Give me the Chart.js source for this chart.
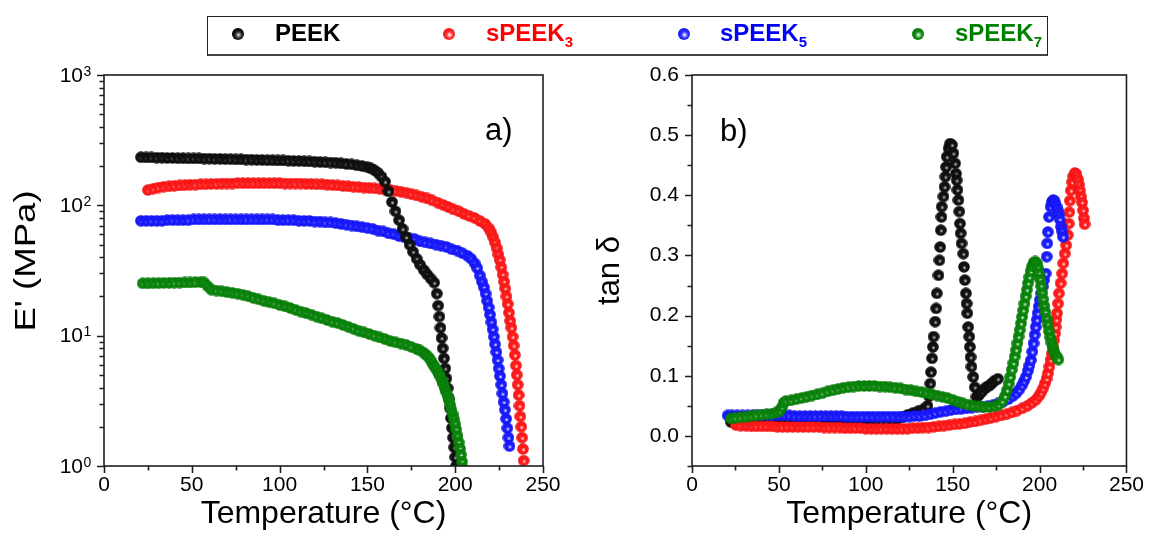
<!DOCTYPE html>
<html><head><meta charset="utf-8">
<script src="https://cdn.jsdelivr.net/npm/chart.js@4.4.1/dist/chart.umd.min.js"></script>
<style>
html,body{margin:0;padding:0;background:#fff;width:1151px;height:533px;overflow:hidden;font-family:"Liberation Sans",Arial,sans-serif;}
#cL{position:absolute;left:0;top:0;}
#cR{position:absolute;left:576px;top:0;}
#legend{position:absolute;left:207px;top:16px;width:841px;height:40px;box-sizing:border-box;border:1.5px solid #222;border-bottom:2px solid #444;}
.ball{position:absolute;top:28px;width:12px;height:12px;border-radius:50%;}
.lab{position:absolute;top:21px;font-weight:bold;font-size:24px;line-height:24px;white-space:nowrap;}
.lab sub{font-size:15px;vertical-align:-6px;line-height:0;}
</style></head>
<body>
<canvas id="cL" width="576" height="533"></canvas>
<canvas id="cR" width="575" height="533"></canvas>
<div id="legend"></div>
<div class="ball" style="left:232px;background:radial-gradient(circle at 55% 58%,#e0e0e0 0%,#333 32%,#000 60%)"></div>
<div class="lab" style="left:275px;color:#000">PEEK</div>
<div class="ball" style="left:443px;background:radial-gradient(circle at 55% 58%,#fff 0%,#ff3030 35%,#e00000 100%)"></div>
<div class="lab" style="left:486px;color:#ff0000">sPEEK<sub>3</sub></div>
<div class="ball" style="left:678px;background:radial-gradient(circle at 55% 58%,#fff 0%,#3030ff 35%,#0000d8 100%)"></div>
<div class="lab" style="left:720px;color:#0000ff">sPEEK<sub>5</sub></div>
<div class="ball" style="left:912px;background:radial-gradient(circle at 55% 58%,#fff 0%,#108a10 35%,#006800 100%)"></div>
<div class="lab" style="left:955px;color:#008000">sPEEK<sub>7</sub></div>
<script>
// ---------- Panel a) storage modulus E' (MPa) ----------
const peekT_E = [21,24,27,30,33,36,39,42,45,48,51,54,57,60,63,66,69,72,75,78,81,84,87,90,93,96,99,102,105,108,111,114,117,120,123,126,129,132,135,138,141,144,147,150,
152,154,156,158,160,162,164,166,168,170,172,174,176,178,180,182,184,186,188,
189.5,190.3,191,191.6,192.2,192.9,193.6,194.3,195,195.7,196.4,197,197.6,198.2,198.8,199.4,200,200.5];
const peekE = [234,233,233,232,232,231,231,230,230,229,229,229,228,228,227,227,226,226,225,225,224,224,223,223,222,222,221,221,220,219,219,218,217,216,215,214,213,212,210,208,206,203,200,196,
192,186,178,166,152,128,106,90,77,66,57,50,44,39,35,32,29.5,27.5,25.5,
21,17,14,11.5,9.6,8.0,6.7,5.6,4.7,3.95,3.3,2.78,2.33,1.96,1.65,1.39,1.17,1.0];

const s3T_E = [25,28,31,34,37,40,43,46,49,52,55,58,61,64,67,70,73,76,79,82,85,88,91,94,97,100,103,106,109,112,115,118,121,124,127,130,133,136,139,142,145,148,151,154,157,160,163,166,169,172,175,178,181,184,187,190,193,196,199,202,205,208,211,214,217,
219,220.5,221.6,222.6,223.6,224.5,225.4,226.2,227,227.8,228.5,229.2,229.9,230.6,231.3,232,232.7,233.3,234,234.6,235.1,235.6,236.1,236.6,237.1,237.6,238.1,238.6,239,239.4];
const s3E = [131,134,137,139,140,141,142,143,144,144,145,145,146,146,147,147,147,148,148,148,148,148,148,148,148,148,147,147,147,147,146,146,145,145,144,143,142,141,140,139,138,137,136,135,134,132,131,129,127,125,122,119,116,113,109,105,101,97,93,90,86,83,80,76,72,
67,62,57,52,47,42,38,33.5,29.5,26,23,20,17.5,15,13,11.5,9.8,8.4,7.1,5.9,5.0,4.2,3.5,2.9,2.4,2.0,1.65,1.35,1.1,0.9];

const s5T_E = [21,24,27,30,33,36,39,42,45,48,51,54,57,60,63,66,69,72,75,78,81,84,87,90,93,96,99,102,105,108,111,114,117,120,123,126,129,132,135,138,141,144,147,150,153,156,159,162,165,168,171,174,177,180,183,186,189,192,195,198,201,204,
207,209,211,212.5,214,215.2,216.3,217.3,218.2,219,219.8,220.6,221.3,222,222.7,223.4,224.1,224.8,225.5,226.2,226.9,227.6,228.3,229,229.7,230.3,230.9];
const s5E = [76,76,76,76,76,77,77,77,77,77,78,78,78,78,78,78,78,78,78,78,78,78,78,78,78,78,77,77,77,77,76,76,76,75,75,74,74,73,72,71,70,69,68,67,66,64,63,61,60,58,57,56,55,53,52,51,50,49,48,46,45,43,
41,39,36,33,29,26,23.5,21,18.5,16.5,14.5,12.7,11.2,9.8,8.6,7.5,6.5,5.6,4.9,4.2,3.6,3.1,2.7,2.3,1.95,1.65,1.42];

const s7T_E = [22,25,28,31,34,37,40,43,46,49,52,55,57,59,61,
64,67,70,73,76,79,82,85,88,91,94,97,100,103,106,109,112,115,118,121,124,127,130,133,136,139,142,145,148,151,154,157,160,163,166,169,172,175,178,
180,182,183.5,185,186.3,187.5,188.6,189.6,190.6,191.5,192.4,193.3,194.1,194.9,195.7,196.4,197.1,197.8,198.5,199.2,199.9,200.6,201.3,202,202.7,203.3,203.9,204.4];
const s7E = [25.2,25.2,25.3,25.3,25.4,25.4,25.5,25.5,25.6,25.6,25.7,25.8,25.6,24,22.6,
22.2,21.9,21.6,21.3,21,20.6,20.1,19.5,19.0,18.5,18.1,17.7,17.2,16.8,16.3,15.8,15.3,14.9,14.5,14.0,13.6,13.2,12.8,12.5,12.1,11.7,11.3,10.9,10.6,10.3,10.0,9.7,9.4,9.1,8.9,8.7,8.5,8.2,7.9,
7.7,7.4,7.1,6.8,6.4,6.0,5.7,5.4,5.1,4.85,4.55,4.25,3.95,3.7,3.45,3.2,2.95,2.7,2.5,2.3,2.1,1.9,1.7,1.52,1.36,1.22,1.08,0.96];

// ---------- Panel b) tan delta ----------
const peekT_D = [22.4,25,28,31,34,37,40,43,46,49,52,55,58,61,64,67,70,73,76,79,82,85,88,91,94,97,100,103,106,109,112,115,118,121,124,127,130,133,135.5,136.4,
137.1,137.5,138.1,138.6,139,139.9,140.5,140.9,141.8,142.4,142.8,143.2,143.5,143.7,144.7,145.3,145.8,146.2,146.6,147.6,148.5,
149.5,150.4,151.4,151.9,152.3,152.7,153.3,153.8,154.2,154.6,155.1,156.1,156.5,157,157.6,158,158.4,158.9,159.5,159.9,160.3,160.8,161.8,162.7,163.7,
164.6,165.6,167,168.5,170,171.3,172.7,174.2,176];
const peekD = [0.023,0.021,0.020,0.020,0.019,0.019,0.019,0.019,0.019,0.019,0.019,0.019,0.019,0.019,0.019,0.019,0.019,0.019,0.019,0.019,0.019,0.020,0.020,0.020,0.020,0.020,0.021,0.021,0.022,0.023,0.024,0.026,0.028,0.031,0.035,0.038,0.041,0.044,0.050,0.066,
0.087,0.106,0.129,0.148,0.165,0.190,0.212,0.237,0.267,0.292,0.314,0.342,0.364,0.381,0.398,0.414,0.431,0.447,0.464,0.478,0.486,
0.484,0.470,0.453,0.436,0.425,0.409,0.392,0.373,0.353,0.337,0.320,0.303,0.281,0.259,0.237,0.220,0.204,0.181,0.165,0.148,0.131,0.115,0.098,0.081,0.065,
0.066,0.070,0.074,0.079,0.082,0.084,0.088,0.092,0.095];

const s3T_D = [25.3,28,31,34,37,40,43,46,49,52,55,58,61,64,67,70,73,76,79,82,85,88,91,94,97,100,103,106,109,112,115,118,121,124,127,130,133,136,139,142,145,148,151,154,157,160,163,166,169,172,175,178,181,184,187,190,193,
195.5,197.8,199.5,200.8,202,203,204,204.8,205.6,206.3,207,207.7,208.3,208.8,209.2,209.6,210,210.6,211.1,212.1,213,213.6,214.5,215.3,216.2,216.8,217.1,217.4,218,218.7,219.5,220.3,221.2,222,222.6,223.2,223.8,224.4,225,225.5,225.9];
const s3D = [0.018,0.017,0.017,0.016,0.016,0.016,0.016,0.016,0.015,0.015,0.015,0.015,0.015,0.015,0.015,0.015,0.015,0.014,0.014,0.014,0.014,0.013,0.013,0.013,0.013,0.012,0.012,0.012,0.012,0.012,0.012,0.012,0.012,0.012,0.013,0.013,0.014,0.014,0.015,0.016,0.017,0.018,0.019,0.020,0.021,0.023,0.024,0.026,0.028,0.030,0.032,0.034,0.036,0.039,0.042,0.046,0.050,
0.055,0.060,0.066,0.072,0.079,0.087,0.095,0.104,0.115,0.126,0.137,0.148,0.159,0.170,0.181,0.193,0.204,0.220,0.237,0.254,0.270,0.287,0.303,0.317,0.334,0.353,0.372,0.391,0.408,0.422,0.432,0.437,0.435,0.427,0.418,0.408,0.398,0.388,0.375,0.362,0.352];

const s5T_D = [20.5,23,26,29,32,35,38,41,44,47,50,53,56,59,62,65,68,71,74,77,80,83,86,89,92,95,98,101,104,107,110,113,116,119,122,125,128,131,134,137,140,143,146,149,152,155,158,161,164,167,170,173,176,179,182,
184.5,186.5,188.3,189.8,191,192.1,193.2,194.1,195,195.8,196.5,197.2,197.8,198.4,198.9,199.5,200.2,201,201.8,202.5,203.5,204.1,204.4,204.8,205.4,206.3,207.1,207.8,208.5,209.1,209.8,210.4,211,211.6,212.3,212.9,213.5];
const s5D = [0.034,0.034,0.034,0.034,0.034,0.034,0.034,0.034,0.034,0.034,0.034,0.034,0.034,0.033,0.033,0.033,0.033,0.033,0.033,0.033,0.033,0.033,0.033,0.032,0.032,0.032,0.032,0.032,0.032,0.032,0.032,0.032,0.032,0.032,0.032,0.032,0.033,0.033,0.034,0.036,0.038,0.040,0.041,0.043,0.044,0.045,0.046,0.047,0.048,0.048,0.049,0.051,0.054,0.057,0.061,
0.066,0.071,0.077,0.084,0.091,0.098,0.108,0.117,0.126,0.140,0.154,0.168,0.181,0.193,0.204,0.215,0.226,0.237,0.248,0.259,0.270,0.298,0.320,0.339,0.364,0.381,0.389,0.392,0.391,0.387,0.381,0.375,0.368,0.360,0.348,0.340,0.331];

const s7T_D = [22.4,25,28,31,34,37,40,43,46,48.5,50.5,51.8,52.7,54,
57,60,63,66,69,72,75,78,81,84,87,90,93,96,99,102,105,108,111,114,117,120,123,126,129,132,135,138,141,144,147,150,153,156,159,162,165,168,171,
174,176.5,178.5,180,181.2,182.2,183.1,184,184.9,185.7,186.5,187.2,187.9,188.6,189.3,189.9,190.6,191.3,192,192.7,193.4,194.1,194.9,195.7,196.6,197.5,198.4,199.1,199.7,200.3,200.9,201.5,202.1,202.7,203.3,204,204.7,205.4,206.1,206.8,207.6,208.4,209.3,210.2,210.8];
const s7D = [0.029,0.030,0.031,0.032,0.033,0.034,0.035,0.036,0.037,0.039,0.042,0.048,0.055,0.058,
0.059,0.061,0.063,0.065,0.067,0.069,0.071,0.074,0.076,0.078,0.080,0.081,0.082,0.083,0.083,0.083,0.083,0.082,0.082,0.081,0.080,0.079,0.077,0.076,0.074,0.073,0.071,0.069,0.067,0.065,0.063,0.060,0.057,0.054,0.052,0.050,0.049,0.048,0.048,
0.049,0.052,0.058,0.066,0.076,0.087,0.098,0.110,0.121,0.132,0.143,0.154,0.165,0.176,0.187,0.198,0.209,0.220,0.232,0.243,0.254,0.264,0.274,0.282,0.288,0.290,0.287,0.279,0.270,0.260,0.249,0.238,0.227,0.216,0.206,0.195,0.185,0.174,0.164,0.155,0.147,0.140,0.134,0.130,0.127];

// ---------- tick labels ----------
const xTicks = [0, 50, 100, 150, 200, 250];
const xMinorTicks = [25, 75, 125, 175, 225];
const eTicks = [1, 10, 100, 1000];
const eTickExp = ['0', '1', '2', '3'];
const dTicks = [0, 0.1, 0.2, 0.3, 0.4, 0.5, 0.6];
const dMinorTicks = [-0.05, 0.05, 0.15, 0.25, 0.35, 0.45, 0.55];

const FONT = "'Liberation Sans', Arial, sans-serif";
Chart.defaults.font.family = FONT;
Chart.defaults.color = '#000';

function makeBall(base, dark, hl, d) {
  const c = document.createElement('canvas');
  c.width = d; c.height = d;
  const g = c.getContext('2d');
  const r = d / 2;
  const grd = g.createRadialGradient(r + 0.12 * r, r + 0.18 * r, 0, r, r, r);
  grd.addColorStop(0, hl);
  grd.addColorStop(0.36, base);
  grd.addColorStop(0.85, base);
  grd.addColorStop(1, dark);
  g.fillStyle = grd;
  g.beginPath(); g.arc(r, r, r - 0.2, 0, Math.PI * 2); g.fill();
  return c;
}
const D = 12;
const ballK = makeBall('#111', '#000', '#d8d8d8', D);
const ballR = makeBall('#ff1a1a', '#d00000', '#ffffff', D);
const ballB = makeBall('#1a1aff', '#0000c8', '#ffffff', D);
const ballG = makeBall('#0a840a', '#006000', '#ffffff', D);

const xy = (xs, ys) => xs.map((x, i) => ({x: x, y: ys[i]}));

const decoPlugin = {
  id: 'deco',
  afterDatasetsDraw(chart, args, o) {
    const ctx = chart.ctx, a = chart.chartArea;
    const xs = chart.scales.x, ys = chart.scales.y;
    ctx.save();
    ctx.strokeStyle = '#1e1e1e';
    ctx.lineWidth = 1.6;
    ctx.strokeRect(a.left, a.top, a.right - a.left, a.bottom - a.top);
    ctx.beginPath();
    o.xMajor.forEach(v => { const p = Math.round(xs.getPixelForValue(v)) + 0.5; ctx.moveTo(p, a.bottom); ctx.lineTo(p, a.bottom + 7); });
    o.xMinor.forEach(v => { const p = Math.round(xs.getPixelForValue(v)) + 0.5; ctx.moveTo(p, a.bottom); ctx.lineTo(p, a.bottom + 4.5); });
    o.yMajor.forEach(v => { const p = Math.round(ys.getPixelForValue(v)) + 0.5; ctx.moveTo(a.left, p); ctx.lineTo(a.left - 7, p); });
    o.yMinor.forEach(v => { const p = Math.round(ys.getPixelForValue(v)) + 0.5; ctx.moveTo(a.left, p); ctx.lineTo(a.left - 4.5, p); });
    ctx.stroke();
    ctx.fillStyle = '#000';
    if (o.logLabels) {
      o.yMajor.forEach((v, i) => {
        const p = ys.getPixelForValue(v);
        ctx.font = '21px ' + FONT;
        ctx.textAlign = 'right';
        ctx.textBaseline = 'middle';
        ctx.fillText('10', 83, p + 1);
        ctx.font = '14px ' + FONT;
        ctx.textAlign = 'left';
        ctx.textBaseline = 'alphabetic';
        ctx.fillText(o.exps[i], 83.5, p + 0.5);
      });
    }
    if (o.yTitle) {
      ctx.save();
      ctx.translate(o.yTitle.x, o.yTitle.y);
      ctx.rotate(-Math.PI / 2);
      ctx.scale(o.yTitle.stretch, 1);
      ctx.font = o.yTitle.size + 'px ' + FONT;
      ctx.textAlign = 'center';
      ctx.textBaseline = 'middle';
      ctx.fillText(o.yTitle.text, 0, 0);
      ctx.restore();
    }
    ctx.font = '31px ' + FONT;
    ctx.textAlign = 'left';
    ctx.textBaseline = 'alphabetic';
    ctx.fillText(o.panel.text, o.panel.x, o.panel.y);
    ctx.restore();
  }
};

function ds(label, data, ball, order) {
  return {label, data, pointStyle: ball, pointRadius: 6, showLine: false, order, clip: 0,
          backgroundColor: 'transparent', borderColor: 'transparent'};
}

const xScale = () => ({
  type: 'linear', min: 0, max: 250,
  grid: {display: false, drawTicks: false}, border: {display: false},
  afterBuildTicks: s => { s.ticks = xTicks.map(v => ({value: v})); },
  afterFit: s => { s.height = 67; },
  ticks: {font: {size: 21}, color: '#000', padding: 7, maxRotation: 0, autoSkip: false,
          callback: v => String(v)},
  title: {display: true, text: 'Temperature (°C)', font: {size: 32}, color: '#000', padding: {top: 0, bottom: 0}}
});

new Chart(document.getElementById('cL'), {
  type: 'scatter',
  data: {datasets: [
    ds('sPEEK7', xy(s7T_E, s7E), ballG, 0),
    ds('PEEK', xy(peekT_E, peekE), ballK, 1),
    ds('sPEEK5', xy(s5T_E, s5E), ballB, 2),
    ds('sPEEK3', xy(s3T_E, s3E), ballR, 3)
  ]},
  options: {
    responsive: false, animation: false, events: [],
    layout: {padding: {top: 75, right: 33, bottom: 0, left: 0}},
    plugins: {legend: {display: false}, tooltip: {enabled: false},
      deco: {xMajor: xTicks, xMinor: xMinorTicks, yMajor: eTicks,
             yMinor: [2,3,4,5,6,7,8,9,20,30,40,50,60,70,80,90,200,300,400,500,600,700,800,900],
             logLabels: true, exps: eTickExp,
             yTitle: {text: "E' (MPa)", x: 27, y: 261, size: 30, stretch: 1.22},
             panel: {text: 'a)', x: 485, y: 140}}},
    scales: {
      x: xScale(),
      y: {type: 'logarithmic', min: 1, max: 1000,
          grid: {display: false, drawTicks: false}, border: {display: false},
          ticks: {display: false},
          afterFit: s => { s.width = 104; }}
    }
  },
  plugins: [decoPlugin]
});

new Chart(document.getElementById('cR'), {
  type: 'scatter',
  data: {datasets: [
    ds('sPEEK7', xy(s7T_D, s7D), ballG, 0),
    ds('sPEEK5', xy(s5T_D, s5D), ballB, 1),
    ds('sPEEK3', xy(s3T_D, s3D), ballR, 2),
    ds('PEEK', xy(peekT_D, peekD), ballK, 3)
  ]},
  options: {
    responsive: false, animation: false, events: [],
    layout: {padding: {top: 75, right: 19, bottom: 0, left: 0}},
    plugins: {legend: {display: false}, tooltip: {enabled: false},
      deco: {xMajor: xTicks, xMinor: xMinorTicks, yMajor: dTicks, yMinor: dMinorTicks,
             logLabels: false, panel: {text: 'b)', x: 144, y: 141}}},
    scales: {
      x: xScale(),
      y: {type: 'linear', min: -0.05, max: 0.6,
          grid: {display: false, drawTicks: false}, border: {display: false},
          afterBuildTicks: s => { s.ticks = dTicks.map(v => ({value: v})); },
          afterFit: s => { s.width = 116; },
          ticks: {font: {size: 21}, color: '#000', padding: 13, autoSkip: false,
                  callback: v => Number(v).toFixed(1)},
          title: {display: true, text: 'tan δ', font: {size: 31}, color: '#000', padding: {top: 16, bottom: 0}}}
    }
  },
  plugins: [decoPlugin]
});
</script>
</body></html>
